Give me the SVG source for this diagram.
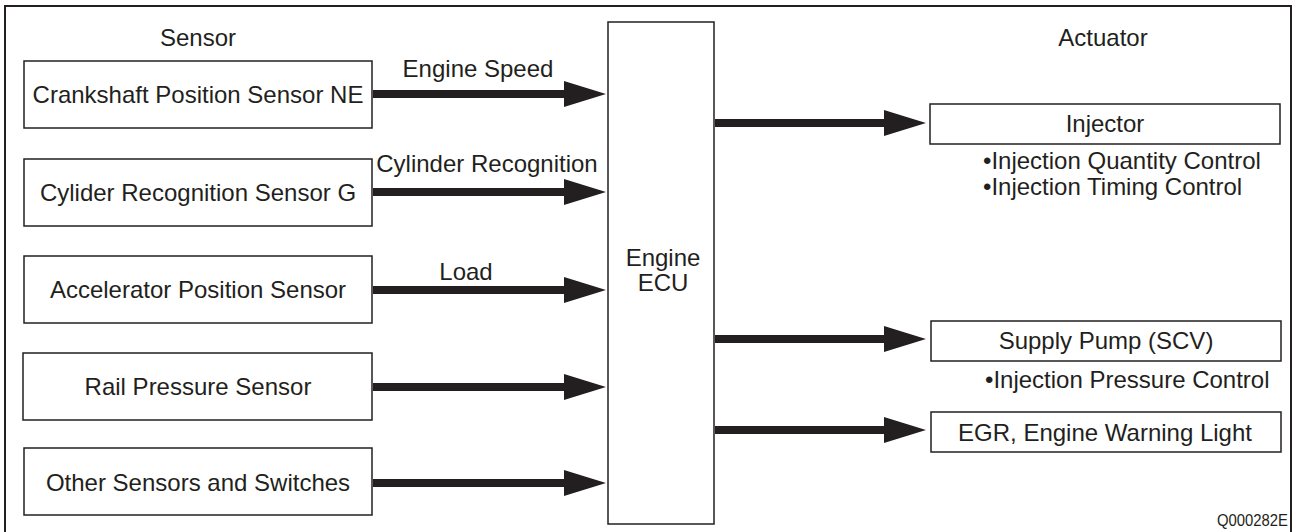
<svg xmlns="http://www.w3.org/2000/svg" width="1296" height="532" viewBox="0 0 1296 532">
<defs>
<style>
text{font-family:"Liberation Sans",Arial,sans-serif;font-size:24px;fill:#231f20}
.box{fill:#fff;stroke:#231f20;stroke-width:1.5}
.c{text-anchor:middle}
.sh{stroke:#231f20;stroke-width:8;fill:none}
</style>
<marker id="head" markerUnits="userSpaceOnUse" markerWidth="44" markerHeight="28" refX="0" refY="13" orient="auto">
<path d="M0,0 L42,13 L0,26 Z" fill="#231f20"/>
</marker>
</defs>
<rect x="0" y="0" width="1296" height="532" fill="#fff"/>
<rect id="frame" x="5" y="6" width="1286" height="530" fill="none" stroke="#231f20" stroke-width="2"/>
<text class="c" x="198" y="46">Sensor</text>
<text class="c" x="1103" y="46">Actuator</text>
<g id="n1"><rect class="box" x="24" y="61" width="348" height="67"/><text class="c" x="198" y="103">Crankshaft Position Sensor NE</text></g>
<g id="n2"><rect class="box" x="24" y="159" width="348" height="67"/><text class="c" x="198" y="201">Cylider Recognition Sensor G</text></g>
<g id="n3"><rect class="box" x="24" y="256" width="348" height="67"/><text class="c" x="198" y="298">Accelerator Position Sensor</text></g>
<g id="n4"><rect class="box" x="23" y="353" width="349" height="67"/><text class="c" x="198" y="395">Rail Pressure Sensor</text></g>
<g id="n5"><rect class="box" x="24" y="448" width="348" height="67"/><text class="c" x="198" y="491">Other Sensors and Switches</text></g>
<g id="ecu"><rect class="box" x="608" y="22" width="106" height="502"/><text class="c" x="663" y="266">Engine</text><text class="c" x="663" y="291">ECU</text></g>
<g id="injector"><rect class="box" x="930" y="104" width="350" height="40"/><text class="c" x="1105" y="132">Injector</text><text x="983" y="169">•Injection Quantity Control</text><text x="983" y="195">•Injection Timing Control</text></g>
<g id="pump"><rect class="box" x="931" y="321" width="350" height="40"/><text class="c" x="1106" y="349">Supply Pump (SCV)</text><text x="985" y="388">•Injection Pressure Control</text></g>
<g id="egr"><rect class="box" x="931" y="412" width="350" height="40"/><text class="c" x="1105" y="441">EGR, Engine Warning Light</text></g>
<g id="connectors">
<line class="sh" x1="373" y1="94" x2="564" y2="94" marker-end="url(#head)"/>
<line class="sh" x1="373" y1="192" x2="564" y2="192" marker-end="url(#head)"/>
<line class="sh" x1="373" y1="290" x2="564" y2="290" marker-end="url(#head)"/>
<line class="sh" x1="373" y1="387" x2="564" y2="387" marker-end="url(#head)"/>
<line class="sh" x1="373" y1="483" x2="564" y2="483" marker-end="url(#head)"/>
<line class="sh" x1="715" y1="123" x2="884" y2="123" marker-end="url(#head)"/>
<line class="sh" x1="715" y1="339" x2="884" y2="339" marker-end="url(#head)"/>
<line class="sh" x1="715" y1="430" x2="884" y2="430" marker-end="url(#head)"/>
<text class="c" x="478" y="77">Engine Speed</text>
<text class="c" x="487" y="172">Cylinder Recognition</text>
<text class="c" x="466" y="280">Load</text>
</g>
<text x="1217" y="526" textLength="71" lengthAdjust="spacingAndGlyphs" style="font-size:17px">Q000282E</text>
</svg>
